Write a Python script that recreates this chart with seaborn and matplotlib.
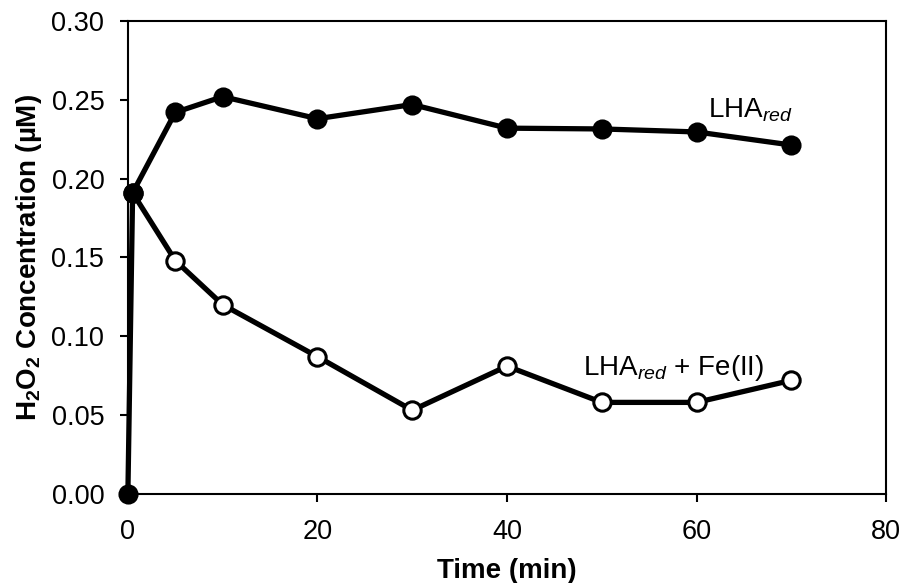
import matplotlib
matplotlib.use("Agg")
import matplotlib.pyplot as plt
import seaborn as sns
import pandas as pd

time_red = [0, 0.5, 5, 10, 20, 30, 40, 50, 60, 70]
lha_red = [0.0, 0.191, 0.242, 0.252, 0.238, 0.247, 0.232, 0.2315, 0.2296, 0.2213]
time_fe = [0.5, 5, 10, 20, 30, 40, 50, 60, 70]
lha_fe = [0.191, 0.148, 0.120, 0.087, 0.053, 0.081, 0.058, 0.058, 0.072]
xticks = [0, 20, 40, 60, 80]
yticks = [0.00, 0.05, 0.10, 0.15, 0.20, 0.25, 0.30]

sns.set_theme(style="white")
plt.rcParams['font.family'] = ['Liberation Sans', 'DejaVu Sans']
plt.rcParams['mathtext.fontset'] = 'custom'
plt.rcParams['mathtext.rm'] = 'Liberation Sans'
plt.rcParams['mathtext.it'] = 'Liberation Sans:italic'
plt.rcParams['mathtext.bf'] = 'Liberation Sans:bold'

fig = plt.figure(figsize=(9.07, 5.83), dpi=100)
ax = fig.add_axes([0.141, 0.153, 0.836, 0.811])

df_fe = pd.DataFrame({"t": time_fe, "c": lha_fe})
df_red = pd.DataFrame({"t": time_red, "c": lha_red})

sns.lineplot(data=df_fe, x="t", y="c", ax=ax, color="black", lw=3.8,
             marker="o", markersize=12.5, markerfacecolor="white",
             markeredgecolor="black", markeredgewidth=2.2, clip_on=False, zorder=3)
sns.lineplot(data=df_red, x="t", y="c", ax=ax, color="black", lw=3.8,
             marker="o", markersize=13, markerfacecolor="black",
             markeredgecolor="black", markeredgewidth=1.5, clip_on=False, zorder=4)

ax.set_xlim(0, 80)
ax.set_ylim(0, 0.30)
ax.set_xticks(xticks)
ax.set_yticks(yticks)
ax.set_xticklabels([str(v) for v in xticks])
ax.set_yticklabels([f"{v:.2f}" for v in yticks])
ax.tick_params(axis='both', direction='out', length=6, width=1.5, labelsize=19.5,
               colors='black', bottom=True, left=True)
ax.tick_params(axis='x', pad=12.5)
ax.tick_params(axis='y', pad=11)
for s in ax.spines.values():
    s.set_visible(True)
    s.set_color('black')
    s.set_linewidth(1.5)

ax.set_xlabel("Time (min)", fontsize=20, fontweight='bold', color='black', labelpad=9)
ax.set_ylabel(r"H$_\mathbf{2}$O$_\mathbf{2}$ Concentration (µM)", fontsize=20,
              fontweight='bold', color='black', labelpad=5)

ax.text(61.2, 0.239, r"LHA$_{red}$", fontsize=20, color='black',
        ha='left', va='baseline')
ax.text(48.0, 0.0755, r"LHA$_{red}$ + Fe(II)", fontsize=20, color='black',
        ha='left', va='baseline')

ax.grid(False)
fig.savefig("out.png", dpi=100)
